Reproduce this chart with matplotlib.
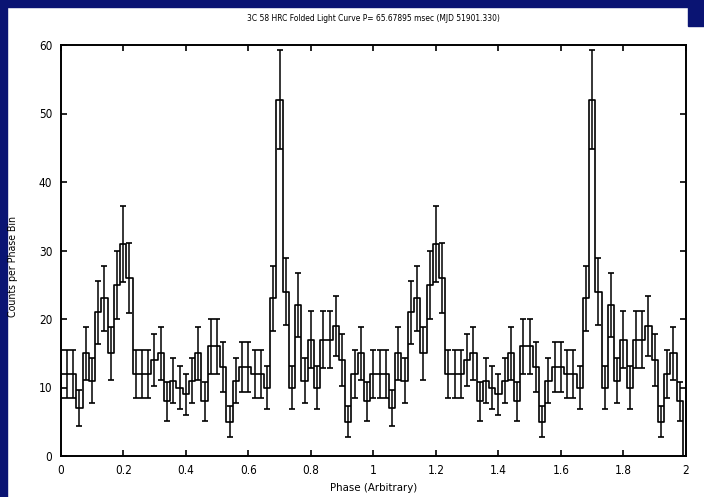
import numpy as np
import matplotlib
matplotlib.use("Agg")
import matplotlib.pyplot as plt
from matplotlib.patches import Rectangle

# ---- data (one pulse cycle, 50 phase bins, shown twice) ----
counts_cycle = [12, 12, 12, 7, 15, 11, 21, 23, 15, 25,
                31, 26, 12, 12, 12, 14, 15, 8, 11, 10,
                9, 11, 15, 8, 16, 16, 13, 5, 11, 13,
                13, 12, 12, 10, 23, 52, 24, 10, 22, 11,
                17, 10, 17, 17, 19, 14, 5, 12, 15, 8]
n_cycles = 2
bin_width = 0.02
title = "3C 58 HRC Folded Light Curve P= 65.67895 msec (MJD 51901.330)"
xlabel = "Phase (Arbitrary)"
ylabel = "Counts per Phase Bin"
xticks = [0, 0.2, 0.4, 0.6, 0.8, 1, 1.2, 1.4, 1.6, 1.8, 2]
xticklabels = ["0", "0.2", "0.4", "0.6", "0.8", "1", "1.2", "1.4", "1.6", "1.8", "2"]
yticks = [0, 10, 20, 30, 40, 50, 60]

counts = np.tile(np.array(counts_cycle, dtype=float), n_cycles)
phase = np.arange(len(counts)) * bin_width
errors = np.sqrt(counts)

# histogram line closes at phase 2 with an empty bin
step_x = np.append(phase, n_cycles * 1.0)
step_y = np.append(counts, 0.0)

W, H = 704, 497
fig = plt.figure(figsize=(W / 100, H / 100), dpi=100, facecolor="white")
navy = "#0a1473"
fig.patches.append(Rectangle((0, 0), 7 / W, 1, transform=fig.transFigure, color=navy, zorder=-5))
fig.patches.append(Rectangle((0, 1 - 7 / H), 1, 7 / H, transform=fig.transFigure, color=navy, zorder=-5))
fig.patches.append(Rectangle((688 / W, 1 - 26 / H), 16 / W, 26 / H, transform=fig.transFigure, color=navy, zorder=-5))

left, right, top, bottom = 60.7, 686, 45, 456
ax = fig.add_axes([left / W, 1 - bottom / H, (right - left) / W, (bottom - top) / H])
ax.set_facecolor("white")

fam = ["DejaVu Sans"]
stretch = "condensed"

ax.step(step_x, step_y, where="mid", color="black", lw=1.2, zorder=3)
ax.errorbar(phase, counts, yerr=errors, fmt="none", ecolor="black",
            elinewidth=1.1, capsize=2.25, capthick=1.2, zorder=3)

ax.set_xlim(0, 2)
ax.set_ylim(0, 60)
ax.set_xticks(xticks)
ax.set_xticklabels(xticklabels, fontfamily=fam, fontsize=8.5, fontstretch=stretch)
ax.set_yticks(yticks)
ax.set_yticklabels([str(v) for v in yticks], fontfamily=fam, fontsize=8.5, fontstretch=stretch)
ax.tick_params(direction="in", length=4.5, width=1.2, top=True, right=True, pad=6)
for s in ax.spines.values():
    s.set_linewidth(1.4)

ax.set_title(title, fontfamily=fam, fontsize=6.0, fontstretch=stretch, pad=17)
ax.set_xlabel(xlabel, fontfamily=fam, fontsize=8.2, fontstretch=stretch)
ax.xaxis.set_label_coords(0.5, -0.066)
ax.set_ylabel(ylabel, fontfamily=fam, fontsize=7.6, fontstretch=stretch)
ax.yaxis.set_label_coords(-0.068, 0.462)

fig.savefig("out.png", dpi=100, facecolor=fig.get_facecolor())
